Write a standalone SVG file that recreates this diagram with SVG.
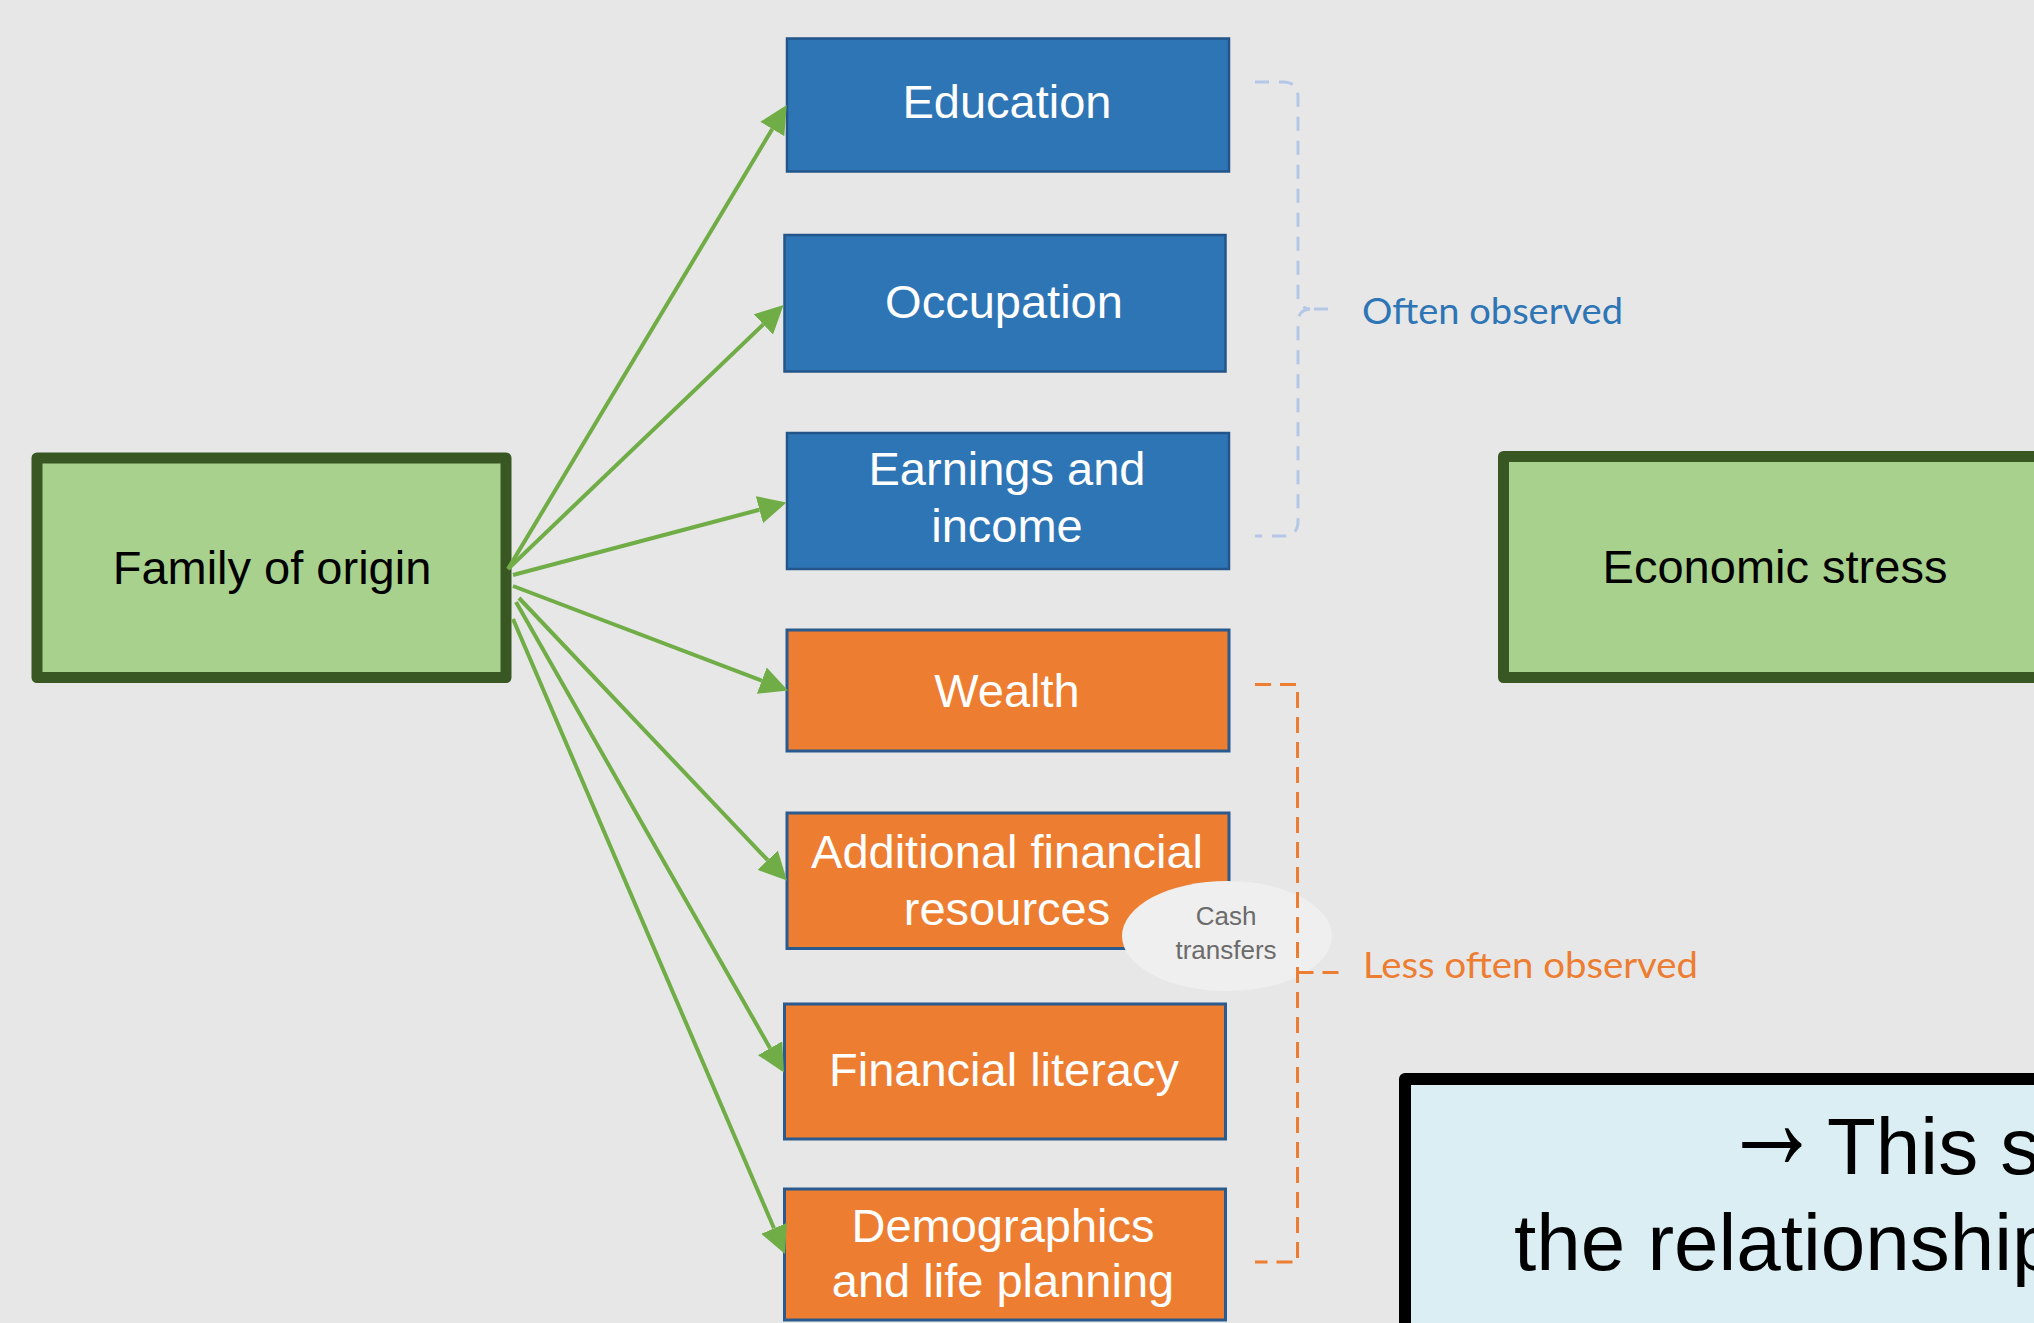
<svg xmlns="http://www.w3.org/2000/svg" width="2034" height="1323" viewBox="0 0 2034 1323">
  <style>
    .green { fill: #a9d18e; stroke: #385723; stroke-width: 11; stroke-linejoin: round; }
    .blue { fill: #2e75b6; stroke: #24558a; stroke-width: 2.5; }
    .orange { fill: #ed7d31; stroke: #2b5a8e; stroke-width: 3; }
    .lbl { font-family: "Liberation Sans", Arial, sans-serif; font-size: 47px; text-anchor: middle; }
    .white { fill: #ffffff; }
    .black { fill: #000000; }
    .edge { stroke: #70ad47; stroke-width: 4; fill: none; marker-end: url(#head); }
    .note { font-family: Lato, "Open Sans", sans-serif; font-size: 37px; }
    .big { font-family: "Liberation Sans", Arial, sans-serif; font-size: 80px; fill: #000000; }
  </style>
  <defs>
    <marker id="head" markerUnits="userSpaceOnUse" viewBox="0 0 28 28" markerWidth="28" markerHeight="28" refX="0" refY="14" orient="auto">
      <path d="M0,0 L28,14 L0,28 Z" fill="#70ad47"/>
    </marker>
  </defs>

  <rect x="0" y="0" width="2034" height="1323" fill="#e7e7e7"/>

  <!-- source node -->
  <g id="family-of-origin">
    <rect class="green" x="37" y="458" width="469" height="219.5"/>
    <text class="lbl black" x="272" y="584">Family of origin</text>
  </g>

  <!-- outcome node -->
  <g id="economic-stress">
    <rect class="green" x="1503.5" y="456.5" width="600" height="221"/>
    <text class="lbl black" x="1775" y="583">Economic stress</text>
  </g>

  <!-- commonly studied channels -->
  <g id="education">
    <rect class="blue" x="787" y="38.5" width="442" height="133"/>
    <text class="lbl white" x="1007" y="118">Education</text>
  </g>
  <g id="occupation">
    <rect class="blue" x="784.5" y="235" width="441" height="136.5"/>
    <text class="lbl white" x="1004" y="318">Occupation</text>
  </g>
  <g id="earnings">
    <rect class="blue" x="787" y="433" width="442" height="136"/>
    <text class="lbl white" x="1007" y="485">Earnings and</text>
    <text class="lbl white" x="1007" y="542">income</text>
  </g>

  <!-- less commonly studied channels -->
  <g id="wealth">
    <rect class="orange" x="787" y="630" width="442" height="121"/>
    <text class="lbl white" x="1007" y="707">Wealth</text>
  </g>
  <g id="additional-resources">
    <rect class="orange" x="787" y="813" width="442" height="135.5"/>
    <text class="lbl white" x="1007" y="868">Additional financial</text>
    <text class="lbl white" x="1007" y="925">resources</text>
  </g>
  <g id="financial-literacy">
    <rect class="orange" x="784.5" y="1004" width="441" height="135"/>
    <text class="lbl white" x="1004" y="1086">Financial literacy</text>
  </g>
  <g id="demographics">
    <rect class="orange" x="784.5" y="1189" width="441" height="131"/>
    <text class="lbl white" x="1003" y="1242">Demographics</text>
    <text class="lbl white" x="1003" y="1297">and life planning</text>
  </g>

  <!-- bubble -->
  <g id="cash-transfers">
    <ellipse cx="1227" cy="936" rx="105" ry="55" fill="#efefef"/>
    <text x="1226" y="925" font-family="'Liberation Sans', Arial, sans-serif" font-size="26" fill="#6b6b6b" text-anchor="middle">Cash</text>
    <text x="1226" y="959" font-family="'Liberation Sans', Arial, sans-serif" font-size="26" fill="#6b6b6b" text-anchor="middle">transfers</text>
  </g>

  <!-- takeaway box -->
  <g id="takeaway">
    <rect x="1405" y="1079" width="700" height="300" fill="#daeef3" stroke="#000000" stroke-width="12" stroke-linejoin="round"/>
    <text class="big" x="0" y="0" transform="translate(1722,1146) scale(1.25,1.8) translate(0,13)">→</text>
    <text class="big" x="1827" y="1174">This s</text>
    <text class="big" x="1514" y="1270">the relationship</text>
  </g>

  <!-- connectors from the source to each channel -->
  <g id="connectors">
    <line class="edge" x1="508" y1="569" x2="772.3" y2="129"/>
    <line class="edge" x1="508" y1="569" x2="763.3" y2="324.4"/>
    <line class="edge" x1="513" y1="575" x2="759.4" y2="509.7"/>
    <line class="edge" x1="513" y1="586" x2="761.8" y2="680.6"/>
    <line class="edge" x1="519" y1="598" x2="767.7" y2="860.2"/>
    <line class="edge" x1="516" y1="602" x2="770.1" y2="1048.2"/>
    <line class="edge" x1="513" y1="619" x2="774" y2="1228.3"/>
  </g>

  <!-- grouping brackets -->
  <g id="often-observed">
    <path d="M1255,82 L1283,82 Q1298,82 1298,97 L1298,296 Q1298,308 1310,309 M1310,309 Q1298,310 1298,322 L1298,521 Q1298,536 1283,536 L1255,536 M1314,309 L1337,309" fill="none" stroke="#b4c7e7" stroke-width="3" stroke-dasharray="14 10"/>
    <text class="note" x="1362" y="324" fill="#2e75b6" textLength="261" lengthAdjust="spacingAndGlyphs">Often observed</text>
  </g>
  <g id="less-often-observed">
    <path d="M1255,684.5 L1297.5,684.5 L1297.5,1262 L1255,1262 M1297.5,972.5 L1340,972.5" fill="none" stroke="#ed7d31" stroke-width="3" stroke-dasharray="16 9"/>
    <text class="note" x="1363" y="978" fill="#ed7d31" textLength="335" lengthAdjust="spacingAndGlyphs">Less often observed</text>
  </g>
</svg>
